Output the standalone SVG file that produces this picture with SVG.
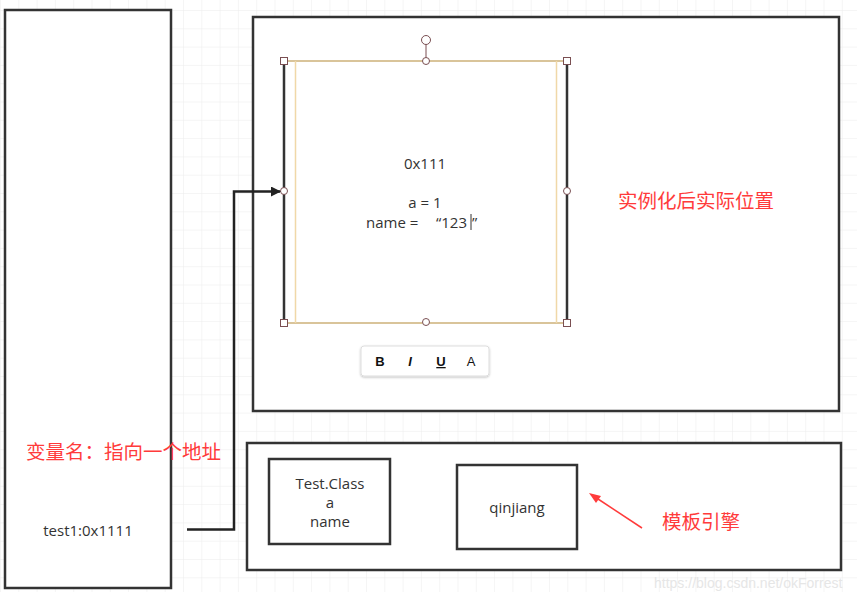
<svg xmlns="http://www.w3.org/2000/svg" width="857" height="592" viewBox="0 0 857 592">
<defs>
<pattern id="grid" width="18.3" height="18.3" patternUnits="userSpaceOnUse" x="0" y="10">
<path d="M0 0H18.3M0 0V18.3" fill="none" stroke="#ececec" stroke-width="1"/>
</pattern>
<marker id="arrBlack" markerWidth="10" markerHeight="10" refX="9" refY="5" orient="auto" markerUnits="userSpaceOnUse" viewBox="0 0 10 10">
<path d="M0 0L10 5L0 10z" fill="#222"/>
</marker>
<filter id="sh" x="-10%" y="-20%" width="120%" height="150%">
<feDropShadow dx="0" dy="1" stdDeviation="1.2" flood-color="#000" flood-opacity="0.25"/>
</filter>
</defs>
<style>
.box{fill:#fff;stroke:#333;stroke-width:2.5}
.t{font-family:"Open Sans","Noto Sans","Liberation Sans",sans-serif;font-size:15px;fill:#333;text-anchor:middle}
.s{text-anchor:start}
.red{font-family:"Noto Sans CJK SC","Noto Sans",sans-serif;font-size:19.5px;fill:#ff3b3b}
.h{fill:#fff;stroke:#7a4f52;stroke-width:1}
.tb{font-family:"Liberation Sans",sans-serif;font-size:13px;fill:#111;text-anchor:middle}
</style>
<rect width="857" height="592" fill="#fff"/>
<rect width="857" height="592" fill="url(#grid)"/>

<g id="var">
<rect class="box" x="5" y="10" width="166" height="578"/>
<text class="red" x="26" y="459">变量名：指向一个地址</text>
<text class="t" x="88" y="536">test1:0x1111</text>
</g>

<g id="heap">
<rect class="box" x="253" y="17" width="586" height="394"/>
<text class="red" x="618" y="208">实例化后实际位置</text>
</g>

<g id="object">
<rect x="284" y="61" width="283" height="262" fill="#fff" stroke="none"/>
<line x1="284" y1="61" x2="284" y2="323" stroke="#333" stroke-width="2.5"/>
<line x1="567" y1="61" x2="567" y2="323" stroke="#333" stroke-width="2.5"/>
<line x1="284" y1="61" x2="567" y2="61" stroke="#d9c49a" stroke-width="2"/>
<line x1="284" y1="323" x2="567" y2="323" stroke="#d9c49a" stroke-width="2"/>
<line x1="295.5" y1="61" x2="295.5" y2="323" stroke="#f0d8a8" stroke-width="1.5"/>
<line x1="556.5" y1="61" x2="556.5" y2="323" stroke="#f0d8a8" stroke-width="1.5"/>
<line x1="426" y1="44" x2="426" y2="61" stroke="#7a4f52" stroke-width="1"/>
<circle class="h" cx="426" cy="40" r="4.5"/>
<rect class="h" x="280.5" y="57.5" width="7" height="7"/>
<rect class="h" x="563.5" y="57.5" width="7" height="7"/>
<rect class="h" x="280.5" y="319.5" width="7" height="7"/>
<rect class="h" x="563.5" y="319.5" width="7" height="7"/>
<circle class="h" cx="426" cy="61" r="3.5"/>
<circle class="h" cx="426" cy="322" r="3.5"/>
<circle class="h" cx="284" cy="191" r="3.5"/>
<circle class="h" cx="567" cy="191" r="3.5"/>
<text class="t" x="425" y="169">0x111</text>
<text class="t" x="425" y="208">a = 1</text>
<text class="t s" x="366" y="228">name =</text>
<text class="t s" x="436" y="228">“123</text>
<line x1="471" y1="214" x2="471" y2="230" stroke="#333" stroke-width="1"/>
<text class="t s" x="472" y="228">”</text>
</g>

<g id="toolbar">
<rect x="361" y="346" width="128" height="30" rx="3" fill="#fff" stroke="#ddd" stroke-width="1" filter="url(#sh)"/>
<text class="tb" x="380" y="366" font-weight="bold">B</text>
<text class="tb" x="410" y="366" font-weight="bold" font-style="italic">I</text>
<text class="tb" x="441" y="366" font-weight="bold" text-decoration="underline">U</text>
<text class="tb" x="471" y="366">A</text>
</g>

<g id="template">
<rect class="box" x="247" y="443" width="594" height="127"/>
<text class="red" x="662" y="529">模板引擎</text>
</g>

<g id="testclass">
<rect class="box" x="269" y="459" width="121" height="85"/>
<text class="t" x="330" y="489">Test.Class</text>
<text class="t" x="330" y="508">a</text>
<text class="t" x="330" y="527">name</text>
</g>

<g id="qinjiang">
<rect class="box" x="457" y="465" width="120" height="84"/>
<text class="t" x="517" y="513">qinjiang</text>
</g>

<g id="connectors">
<path d="M187 529.5H234V191.5H280" fill="none" stroke="#222" stroke-width="2.5" marker-end="url(#arrBlack)"/>
<line x1="642" y1="528" x2="595" y2="497" stroke="#ff3b3b" stroke-width="1.5"/>
<path d="M589 493L601 496L596 503z" fill="#ff3b3b"/>
</g>

<text x="654" y="588" font-family="Liberation Sans,sans-serif" font-size="14" fill="#e6e6e6">https://blog.csdn.net/okForrest</text>
</svg>
